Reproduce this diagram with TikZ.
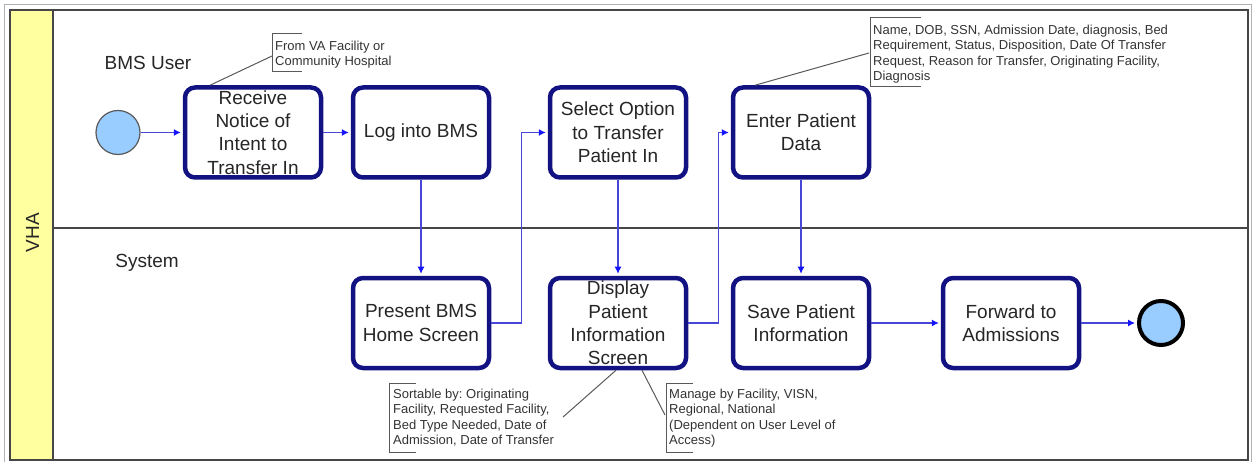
\documentclass[tikz,border=0pt]{standalone}
\usepackage{fontspec}
\setmainfont{Liberation Sans}
\usetikzlibrary{arrows.meta}
\frenchspacing
\definecolor{navy}{RGB}{18,18,130}
\definecolor{flow}{RGB}{70,70,215}
\definecolor{tipblue}{RGB}{20,20,255}
\definecolor{lightblue}{RGB}{153,204,255}
\definecolor{paleyellow}{RGB}{255,255,160}
\definecolor{framegray}{RGB}{70,70,70}
\begin{document}
\begin{tikzpicture}[x=1pt,y=-1pt,
  task/.style={draw=navy, line width=4.5pt, rounded corners=10pt, fill=white,
    minimum width=136pt, minimum height=90pt, inner sep=0pt, align=center,
    text=black!85, font=\fontsize{19}{23.3}\selectfont},
  flowline/.style={draw=flow, line width=1.1pt, shorten >=2pt,
    -{Latex[length=7pt,width=7pt,color=tipblue]}},
  note/.style={anchor=north west, align=left, inner sep=0pt,
    text=black!80, font=\fontsize{13}{15.6}\selectfont\frenchspacing},
  bracketline/.style={draw=black!65, line width=1pt},
  lanelabel/.style={text=black!85, font=\fontsize{19}{23}\selectfont, inner sep=0pt}]
\useasboundingbox (0,0) rectangle (1252,462);
% frames
\draw[black!30, line width=0.8pt] (4,4) rectangle (1251,462);
\fill[paleyellow] (10,10) rectangle (53,460);
\draw[framegray, line width=1.5pt] (10,10) rectangle (1248,460);
\draw[framegray, line width=1.5pt] (53,10) -- (53,460);
\draw[framegray, line width=2pt] (53,228) -- (1248,228);
\node[lanelabel, rotate=90] (vha) at (32.5,232.5) {VHA};
\node[lanelabel, anchor=base] (bmsuser) at (148,69.5) {BMS User};
\node[lanelabel, anchor=base] (system) at (147,267) {System};
% events
\node[circle, draw=black!65, line width=1.2pt, fill=lightblue, minimum size=44pt, inner sep=0pt] (start) at (118,132.5) {};
\node[circle, draw=black, line width=4pt, fill=lightblue, minimum size=44pt, inner sep=0pt] (end) at (1161,323) {};
% tasks
\node[task] (recv) at (253,132.5) {Receive\\Notice of\\Intent to\\Transfer In};
\node[task] (login) at (421,132.5) {Log into BMS};
\node[task] (select) at (618,132.5) {Select Option\\to Transfer\\Patient In};
\node[task] (enter) at (801,132.5) {Enter Patient\\Data};
\node[task] (present) at (421,323) {Present BMS\\Home Screen};
\node[task] (display) at (618,323) {Display\\Patient\\Information\\Screen};
\node[task] (save) at (801,323) {Save Patient\\Information};
\node[task] (forward) at (1011,323) {Forward to\\Admissions};
% flows
\draw[flowline] (start) -- (recv);
\draw[flowline] (recv) -- (login);
\draw[flowline] (login) -- (present);
\draw[flowline] (present.east) -- ++(30,0) |- (select.west);
\draw[flowline] (select) -- (display);
\draw[flowline] (display.east) -- ++(30,0) |- (enter.west);
\draw[flowline] (enter) -- (save);
\draw[flowline] (save) -- (forward);
\draw[flowline] (forward) -- (end);
% annotations
\draw[bracketline] (302,34) -- (272,34) -- (272,72) -- (302,72);
\node[note] (vanote) at (275,40.5) {From VA Facility or\\Community Hospital};
\coordinate (vab) at (272,56);
\draw[bracketline] (vab) -- ([xshift=-43pt]recv.north);

\draw[bracketline] (921,18) -- (870,18) -- (870,87) -- (921,87);
\node[note] (datanote) at (873,24.5) {Name, DOB, SSN, Admission Date, diagnosis, Bed\\Requirement, Status, Disposition, Date Of Transfer\\Request, Reason for Transfer, Originating Facility,\\Diagnosis};
\coordinate (datab) at (869,53);
\draw[bracketline] (datab) -- ([xshift=-46pt]enter.north);

\draw[bracketline] (416,383) -- (389,383) -- (389,452) -- (416,452);
\node[note] (sortnote) at (393,388.5) {Sortable by: Originating\\Facility, Requested Facility,\\Bed Type Needed, Date of\\Admission, Date of Transfer};
\coordinate (sorte) at (563,417);
\draw[bracketline] ([xshift=-2pt]display.south) -- (sorte);

\draw[bracketline] (693,383) -- (666,383) -- (666,452) -- (693,452);
\node[note] (managenote) at (669,388.5) {Manage by Facility, VISN,\\Regional, National\\(Dependent on User Level of\\Access)};
\coordinate (managee) at (665,415);
\draw[bracketline] ([xshift=24pt]display.south) -- (managee);
\end{tikzpicture}
\end{document}
